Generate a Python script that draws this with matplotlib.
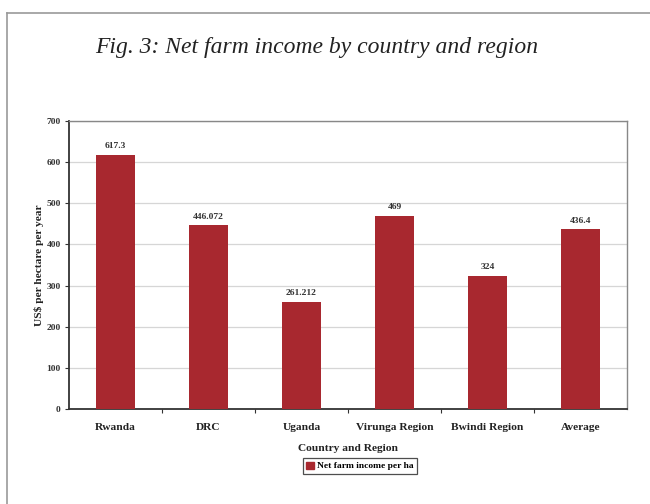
import matplotlib
matplotlib.use("Agg")
import matplotlib.pyplot as plt
from matplotlib.patches import Rectangle
from matplotlib.lines import Line2D

# Net farm income per hectare, per country/region
categories = ["Rwanda", "DRC", "Uganda", "Virunga Region", "Bwindi Region", "Average"]
values = [617.3, 446.072, 261.212, 469, 324, 436.4]
value_labels = ["617.3", "446.072", "261.212", "469", "324", "436.4"]
yticks = [0, 100, 200, 300, 400, 500, 600, 700]

bar_color = "#A8282F"
serif = ["Liberation Serif", "DejaVu Serif"]

fig = plt.figure(figsize=(6.5, 5.04), dpi=100)
W, H = 650, 504

# outer page frame (top and left edges)
fig.add_artist(Line2D([7 / W, 7 / W], [0, 1 - 13 / H], color="#999999", lw=1.2,
                      transform=fig.transFigure))
fig.add_artist(Line2D([7 / W, 1], [1 - 13 / H, 1 - 13 / H], color="#999999", lw=1.2,
                      transform=fig.transFigure))

fig.text(317 / W, 1 - 47 / H, "Fig. 3: Net farm income by country and region",
         ha="center", va="center", fontsize=17, style="italic", family=serif,
         color="#222222")

ax = fig.add_axes([69 / W, 1 - 409 / H, (627 - 69) / W, (409 - 121) / H])
x = range(len(categories))
ax.bar(x, values, width=0.41, color=bar_color, zorder=3)

for xi, v, lab in zip(x, values, value_labels):
    ax.text(xi, v + 12, lab, ha="center", va="bottom", fontsize=6.8,
            fontweight="bold", family=serif, color="#333333")

ax.set_xlim(-0.5, len(categories) - 0.5)
ax.set_ylim(0, 700)
ax.set_yticks(yticks)
ax.set_yticklabels([str(t) for t in yticks], fontsize=6.8, fontweight="bold",
                   family=serif, color="#333333")
ax.yaxis.grid(True, color="#d6d6d6", lw=0.9, zorder=0)

# category labels centred under the bars, ticks drawn between them
ax.set_xticks([i + 0.5 for i in range(len(categories) - 1)])
ax.set_xticklabels([])
ax.set_xticks(list(x), minor=True)
ax.set_xticklabels(categories, minor=True, fontsize=8.2, fontweight="bold",
                   family=serif, color="#222222")
ax.tick_params(axis="x", which="minor", length=0, pad=10)
ax.tick_params(axis="x", which="major", length=3, width=0.8, color="#333333", direction="out")
ax.tick_params(axis="y", length=3, width=0.8, color="#333333", pad=3)

ax.set_xlabel("Country and Region", fontsize=8.2, fontweight="bold", family=serif,
              color="#222222", labelpad=9)
ax.set_ylabel("US$ per hectare per year", fontsize=8.2, fontweight="bold",
              family=serif, color="#222222", labelpad=2)

for side in ["left", "bottom"]:
    ax.spines[side].set_color("#333333")
    ax.spines[side].set_linewidth(1.3)
for side in ["top", "right"]:
    ax.spines[side].set_color("#888888")
    ax.spines[side].set_linewidth(1.0)

leg = ax.legend([Rectangle((0, 0), 1, 1, color=bar_color)], ["Net farm income per ha"],
                loc="center", bbox_to_anchor=(360 / W, 1 - 466 / H),
                bbox_transform=fig.transFigure, frameon=True, fancybox=False,
                prop={"family": serif, "size": 6.8, "weight": "bold"},
                handlelength=0.8, handleheight=0.8, handletextpad=0.3,
                borderpad=0.35, borderaxespad=0)
leg.get_frame().set_edgecolor("#222222")
leg.get_frame().set_linewidth(0.9)

fig.savefig("out.png", dpi=100)
